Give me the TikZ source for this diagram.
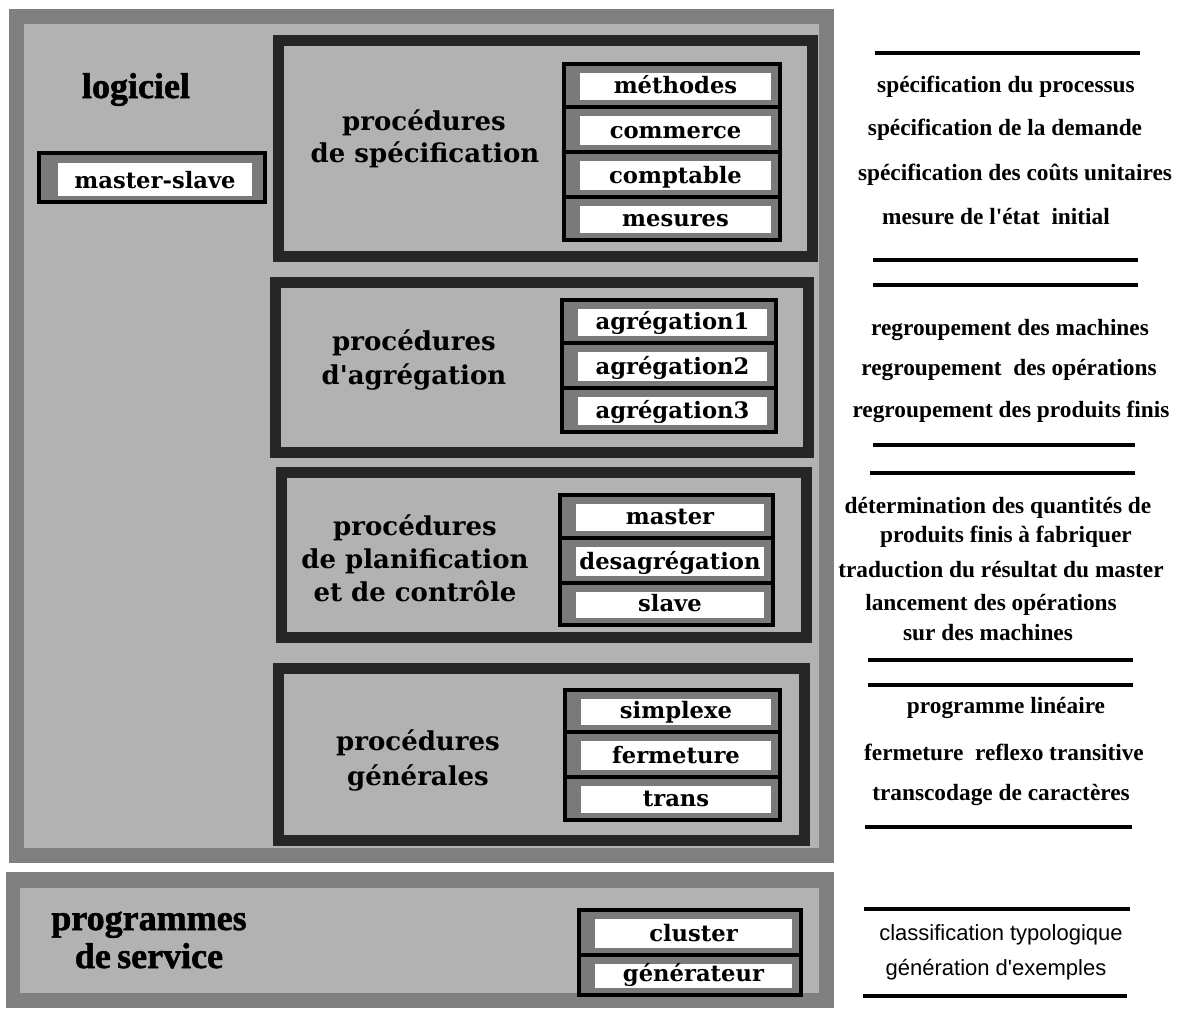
\documentclass[tikz,border=0pt]{standalone}
\usepackage{fontspec}
\setmainfont{Liberation Serif}
\newfontfamily\descfont{Liberation Serif}
\newfontfamily\itemfont{DejaVu Serif}
\newfontfamily\heavyfont{Liberation Serif}[BoldFeatures={FakeBold=1.5}]
\newfontfamily\servfont{Liberation Sans}
\newcommand\procframe[4]{%
  \fill[pborder] (#1,#2) rectangle (#3,#4);
  \fill[pfill] (#1+11,#2+11) rectangle (#3-11,#4-11);}
\newcommand\stackframe[4]{\fill[black] (#1,#2) rectangle (#3,#4);}
\newcommand\stackitem[6]{%
  \fill[iband] (#1+4,#3+2) rectangle (#2-4,#4-2);
  \fill[white] (#1+18,#3+9) rectangle (#2-11,#4-7);
  \node[itemtxt] (#5) at ({(#1+#2+7)/2},#4-14) {#6};}
\begin{document}
\begin{tikzpicture}[x=0.75pt,y=-0.75pt,
  lband/.style={fill=black!50},
  lfill/.style={fill=black!30},
  pborder/.style={fill=black!85},
  pfill/.style={fill=black!30},
  iband/.style={fill=black!52},
  itemtxt/.style={font=\itemfont\bfseries\fontsize{17}{20}\selectfont, anchor=base, inner sep=0pt},
  titletxt/.style={font=\itemfont\bfseries\fontsize{19.5}{23}\selectfont, anchor=base, inner sep=0pt},
  desctxt/.style={font=\descfont\bfseries\fontsize{17.5}{21}\selectfont, anchor=base, inner sep=0pt},
  servtxt/.style={font=\servfont\fontsize{16.5}{20}\selectfont, anchor=base, inner sep=0pt},
  bigtxt/.style={font=\heavyfont\bfseries\fontsize{27}{29}\selectfont, anchor=base, inner sep=0pt},
  rulel/.style={line width=3pt},
]
\fill[white] (0,0) rectangle (1192,1022);
\useasboundingbox (0,0) rectangle (1192,1022);

% logiciel frame
\fill[lband] (9,9) rectangle (834,863);
\fill[lfill] (24,24) rectangle (819,848);
% service frame
\fill[lband] (6,872) rectangle (834,1008);
\fill[lfill] (20,888) rectangle (819,993);

\node[bigtxt] (logiciel) at (136,98) {logiciel};
\node[bigtxt] (prog1) at (149,930) {programmes};
\node[bigtxt] (prog2) at (149,968) {de\hspace{-2pt} service};

% master-slave
\fill[black] (37,151) rectangle (267,204);
\fill[iband] (41,155) rectangle (263,200);
\fill[white] (58,163) rectangle (252,196);
\node[itemtxt] (ms) at (155,188) {master-slave};

% procedure frames
\procframe{273}{35}{818}{262}
\procframe{270}{277}{814}{458}
\procframe{276}{467}{812}{643}
\procframe{273}{663}{810}{846}

\node[titletxt] (p1a) at (424,130) {procédures};
\node[titletxt] (p1b) at (425,162) {de spécification};
\node[titletxt] (p2a) at (414,350) {procédures};
\node[titletxt] (p2b) at (414,384) {d'agrégation};
\node[titletxt] (p3a) at (415,535) {procédures};
\node[titletxt] (p3b) at (415,568) {de planification};
\node[titletxt] (p3c) at (415,601) {et de contrôle};
\node[titletxt] (p4a) at (418,750) {procédures};
\node[titletxt] (p4b) at (418,785) {générales};

% stacks
\stackframe{562}{62}{782}{242}
\stackitem{562}{782}{64}{107}{s1a}{méthodes}
\stackitem{562}{782}{107}{152}{s1b}{commerce}
\stackitem{562}{782}{152}{197}{s1c}{comptable}
\stackitem{562}{782}{197}{240}{s1d}{mesures}

\stackframe{560}{298}{778}{434}
\stackitem{560}{778}{300}{343}{s2a}{agrégation1}
\stackitem{560}{778}{343}{388}{s2b}{agrégation2}
\stackitem{560}{778}{388}{432}{s2c}{agrégation3}

\stackframe{558}{493}{775}{627}
\stackitem{558}{775}{495}{538}{s3a}{master}
\stackitem{558}{775}{538}{583}{s3b}{desagrégation}
\stackitem{558}{775}{583}{625}{s3c}{slave}

\stackframe{563}{688}{782}{822}
\stackitem{563}{782}{690}{732}{s4a}{simplexe}
\stackitem{563}{782}{732}{777}{s4b}{fermeture}
\stackitem{563}{782}{777}{820}{s4c}{trans}

\stackframe{577}{908}{803}{997}
\stackitem{577}{803}{910}{955}{s5a}{cluster}
\stackitem{577}{803}{955}{995}{s5b}{générateur}

% right descriptions
\draw[rulel] (875,53) -- (1140,53);
\node[desctxt] (g1a) at (1006,92) {spécification du processus};
\node[desctxt] (g1b) at (1005,135) {spécification de la demande};
\node[desctxt] (g1c) at (1015,180) {spécification des coûts unitaires};
\node[desctxt] (g1d) at (996,224) {mesure de l'état\ \ initial};
\draw[rulel] (873,260) -- (1138,260);

\draw[rulel] (873,285) -- (1138,285);
\node[desctxt] (g2a) at (1010,335) {regroupement des machines};
\node[desctxt] (g2b) at (1009,375) {regroupement\ \ des opérations};
\node[desctxt] (g2c) at (1011,417) {regroupement des produits finis};
\draw[rulel] (873,445) -- (1135,445);

\draw[rulel] (870,473) -- (1135,473);
\node[desctxt] (g3a) at (998,513) {détermination des quantités de};
\node[desctxt] (g3b) at (1006,542) {produits finis à fabriquer};
\node[desctxt] (g3c) at (1001,577) {traduction du résultat du master};
\node[desctxt] (g3d) at (991,610) {lancement des opérations};
\node[desctxt] (g3e) at (988,640) {sur des machines};
\draw[rulel] (868,660) -- (1133,660);

\draw[rulel] (868,685) -- (1133,685);
\node[desctxt] (g4a) at (1006,713) {programme linéaire};
\node[desctxt] (g4b) at (1004,760) {fermeture\ \ reflexo transitive};
\node[desctxt] (g4c) at (1001,800) {transcodage de caractères};
\draw[rulel] (865,827) -- (1132,827);

\draw[rulel] (864,909) -- (1130,909);
\node[servtxt] (g5a) at (1001,940) {classification typologique};
\node[servtxt] (g5b) at (996,975) {génération d'exemples};
\draw[rulel] (863,996) -- (1127,996);
\end{tikzpicture}
\end{document}
